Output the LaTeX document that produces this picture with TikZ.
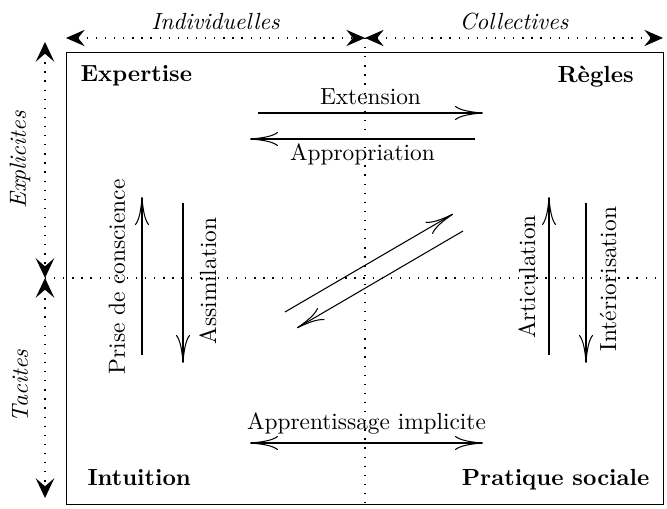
\documentclass[tikz,border=0pt]{standalone}
\usepackage{tikz}
\usetikzlibrary{positioning, arrows.meta}

\begin{document}
\begin{tikzpicture}[x=0.4286pt, y=-0.4286pt]

  \tikzstyle{quadrant}=[font=\bfseries]
  \tikzstyle{axislabel}=[font=\itshape]
  \tikzstyle{transfer}=[-{To[length=12pt, width=6pt]}, line width=0.45pt]
  \tikzstyle{mutual}=[{To[length=12pt, width=6pt]}-{To[length=12pt, width=6pt]}, line width=0.45pt]
  \tikzstyle{axis}=[dash pattern=on 0.55pt off 3.35pt, line width=0.55pt]
  \tikzstyle{haxis}=[axis, {Stealth[length=8pt, width=7pt, inset=2.8pt]}-{Stealth[length=8pt, width=7pt, inset=2.8pt]}]
  \tikzstyle{vaxis}=[axis, {Stealth[length=8.5pt, width=8pt, inset=3.5pt]}-{Stealth[length=8.5pt, width=8pt, inset=3.5pt]}]

  \useasboundingbox (0,0) rectangle (667,509);

  % frame and axes
  \coordinate (nw) at (66,52);
  \coordinate (ne) at (663,52);
  \coordinate (sw) at (66,504);
  \coordinate (se) at (663,504);
  \coordinate (top) at (365,38);
  \coordinate (bot) at (365,508);
  \coordinate (expl) at (45,42);
  \coordinate (mid) at (45,278);
  \coordinate (tac) at (45,498);
  \coordinate (east) at (663,278);

  \draw [line width=0.4pt] (nw) rectangle (se);

  \draw [haxis] (nw |- top) -- (top) node[midway, above, axislabel] (indiv) {Individuelles};
  \draw [haxis] (top) -- (se |- top) node[midway, above, axislabel] (coll) {Collectives};
  \draw [vaxis] (expl) -- (mid);
  \draw [vaxis] (mid) -- (tac);
  \draw [axis, line width=0.7pt] (top) -- (bot);
  \draw [axis] (mid) -- (east);

  \node [axislabel, rotate=90] (explicit) at (20,160) {Explicites};
  \node [axislabel, rotate=90] (tacit) at (20,386) {Tacites};

  % quadrants
  \node [quadrant, below right = 2.3pt and 2.7pt of nw] (expertise) {Expertise};
  \node [quadrant, below left = 2.3pt and 9pt of ne] (regles) {Règles};
  \node [quadrant, above right = 4.4pt and 5.7pt of sw] (intuition) {Intuition};
  \node [quadrant, above left = 2.5pt and 2.3pt of se] (pratique) {Pratique sociale};

  % transfers
  \coordinate (ext-a) at (258,113);
  \coordinate (ext-b) at (483,113);
  \coordinate (app-a) at (475,139);
  \coordinate (app-b) at (250,139);
  \coordinate (imp-a) at (250,443);
  \coordinate (imp-b) at (483,443);

  \draw [transfer] (ext-a) -- (ext-b) node[midway, above] (ext) {Extension};
  \draw [transfer] (app-a) -- (app-b) node[midway, below, inner sep=2pt] (app) {Appropriation};
  \draw [mutual] (imp-a) -- (imp-b) node[midway, above] (imp) {Apprentissage implicite};

  \coordinate (pc-a) at (142,355);
  \coordinate (pc-b) at (142,197);
  \coordinate (as-a) at (183,203);
  \coordinate (as-b) at (183,363);
  \coordinate (ar-a) at (549,355);
  \coordinate (ar-b) at (549,197);
  \coordinate (in-a) at (586,203);
  \coordinate (in-b) at (586,363);

  \draw [transfer] (pc-a) -- (pc-b);
  \draw [transfer] (as-a) -- (as-b);
  \draw [transfer] (ar-a) -- (ar-b);
  \draw [transfer] (in-a) -- (in-b);

  \node [rotate=90] (prise) at (117,277) {Prise de conscience};
  \node [rotate=90] (assim) at (208,281) {Assimilation};
  \node [rotate=90] (artic) at (527,277) {Articulation};
  \node [rotate=90] (inter) at (608,279) {Intériorisation};

  \coordinate (up-a) at (285,312);
  \coordinate (up-b) at (453,214);
  \coordinate (dn-a) at (463,231);
  \coordinate (dn-b) at (297,328);

  \draw [transfer] (up-a) -- (up-b);
  \draw [transfer] (dn-a) -- (dn-b);

\end{tikzpicture}
\end{document}
